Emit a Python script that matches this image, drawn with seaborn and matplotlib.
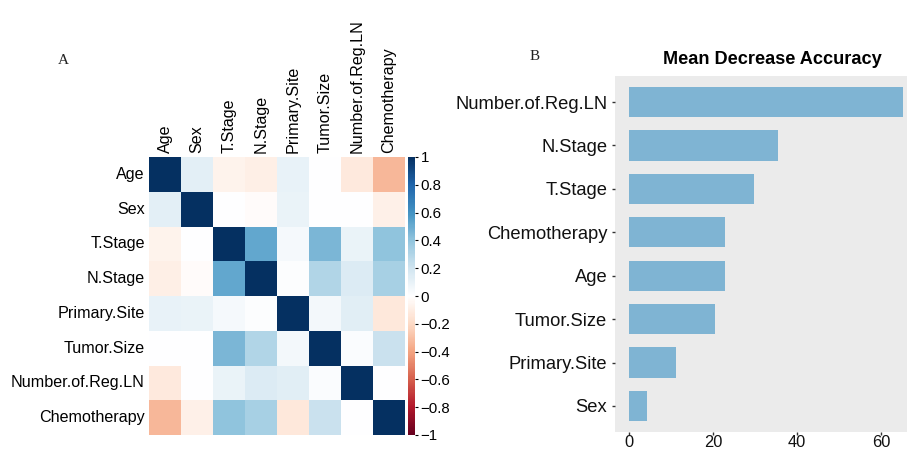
import numpy as np
import pandas as pd
import matplotlib
matplotlib.use("Agg")
import matplotlib.pyplot as plt
from matplotlib.colors import LinearSegmentedColormap
import seaborn as sns

sns.set_theme(style="white")
plt.rcParams["font.family"] = ["Liberation Sans", "DejaVu Sans"]

# Variables used in the correlation matrix (panel A)
variables = ["Age", "Sex", "T.Stage", "N.Stage", "Primary.Site",
             "Tumor.Size", "Number.of.Reg.LN", "Chemotherapy"]

# Pairwise correlations, one row per variable
corr_age = [1.00, 0.12, -0.07, -0.09, 0.10, 0.00, -0.12, -0.33]
corr_sex = [0.12, 1.00, 0.00, -0.02, 0.09, 0.00, 0.00, -0.08]
corr_tstage = [-0.07, 0.00, 1.00, 0.52, 0.04, 0.46, 0.09, 0.40]
corr_nstage = [-0.09, -0.02, 0.52, 1.00, 0.01, 0.30, 0.15, 0.33]
corr_site = [0.10, 0.09, 0.04, 0.01, 1.00, 0.05, 0.13, -0.13]
corr_size = [0.00, 0.00, 0.46, 0.30, 0.05, 1.00, 0.02, 0.22]
corr_regln = [-0.12, 0.00, 0.09, 0.15, 0.13, 0.02, 1.00, 0.00]
corr_chemo = [-0.33, -0.08, 0.40, 0.33, -0.13, 0.22, 0.00, 1.00]

# Random forest importance (panel B)
importance_vars = ["Number.of.Reg.LN", "N.Stage", "T.Stage", "Chemotherapy",
                   "Age", "Tumor.Size", "Primary.Site", "Sex"]
importance_vals = [65.2, 35.5, 29.7, 23.0, 22.9, 20.6, 11.2, 4.4]

cbar_ticks = [1, 0.8, 0.6, 0.4, 0.2, 0, -0.2, -0.4, -0.6, -0.8, -1]

# Diverging red-white-blue palette with a pure white midpoint
rdbu_colors = ["#67001F", "#B2182B", "#D6604D", "#F4A582", "#FDDBC7",
               "#FFFFFF", "#D1E5F0", "#92C5DE", "#4393C3", "#2166AC",
               "#053061"]
rdbu_white = LinearSegmentedColormap.from_list("rdbu_white", rdbu_colors,
                                               N=256)

corr = pd.DataFrame([corr_age, corr_sex, corr_tstage, corr_nstage,
                     corr_site, corr_size, corr_regln, corr_chemo],
                    index=variables, columns=variables)

W, H = 907, 450
fig = plt.figure(figsize=(W / 100, H / 100), dpi=100)
fig.patch.set_facecolor("white")


def box(x0, y0, x1, y1):
    """Pixel box (top-left origin) to figure fraction rectangle."""
    return [x0 / W, 1 - y1 / H, (x1 - x0) / W, (y1 - y0) / H]


# ---- Panel A: correlation heatmap ----
ax_hm = fig.add_axes(box(149, 157, 405, 435))
ax_cb = fig.add_axes(box(408, 157, 415, 435))
sns.heatmap(corr, ax=ax_hm, cbar_ax=ax_cb, cmap=rdbu_white, vmin=-1, vmax=1,
            square=False, linewidths=0, cbar_kws={"ticks": cbar_ticks})
ax_hm.xaxis.tick_top()
ax_hm.set_xticklabels(variables, rotation=90, fontsize=11.6, color="black")
ax_hm.set_yticklabels(variables, rotation=0, fontsize=11.6, color="black")
ax_hm.tick_params(axis="both", length=0, pad=3)
ax_hm.set_xlabel("")
ax_hm.set_ylabel("")

ax_cb.tick_params(labelsize=10.8, length=2, width=0.8, pad=2, colors="black")
ax_cb.set_yticklabels([("\u2212" if t < 0 else "") + f"{abs(t):g}"
                       for t in cbar_ticks])
for sp in ax_cb.spines.values():
    sp.set_visible(False)
cbar = ax_hm.collections[0].colorbar
if cbar is not None:
    cbar.outline.set_visible(False)

fig.text(63 / W, 1 - 61 / H, "A", family="Liberation Serif", fontsize=11,
         ha="center", va="center", color="#222222")

# ---- Panel B: variable importance ----
ax_bar = fig.add_axes(box(615, 76, 917, 432))
imp = pd.DataFrame({"var": importance_vars, "val": importance_vals})
sns.barplot(data=imp, x="val", y="var", orient="h", color="#7fb4d3",
            saturation=1, width=0.7, linewidth=0, ax=ax_bar)
ax_bar.set_facecolor("#ebebeb")
ax_bar.set_xlim(-3.3, 68.6)
ax_bar.set_ylim(7.6, -0.6)
ax_bar.set_xticks([0, 20, 40, 60])
ax_bar.set_xlabel("")
ax_bar.set_ylabel("")
for sp in ax_bar.spines.values():
    sp.set_visible(False)
ax_bar.tick_params(axis="y", labelsize=13.2, length=2.5, width=1,
                   color="#333333", pad=3, labelcolor="#111111", left=True)
ax_bar.tick_params(axis="x", labelsize=11.8, length=2, width=1,
                   color="#333333", pad=0.5, labelcolor="#111111", bottom=True)

fig.text(772 / W, 1 - 60 / H, "Mean Decrease Accuracy", fontsize=13.1,
         fontweight="bold", ha="center", va="center", color="black")
fig.text(535 / W, 1 - 57 / H, "B", family="Liberation Serif", fontsize=11,
         ha="center", va="center", color="#222222")

fig.savefig("out.png", dpi=100)
